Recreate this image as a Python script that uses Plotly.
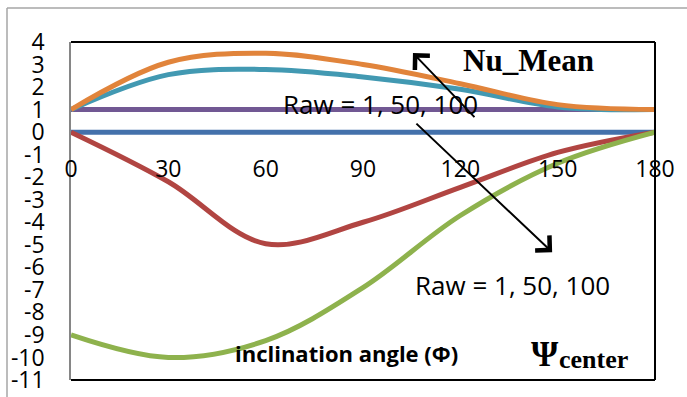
import plotly.graph_objects as go

# inclination angle (degrees)
angles = [0, 30, 60, 90, 120, 150, 180]

# Nu_Mean curves
nu_raw_1 = [1.0, 1.0, 1.0, 1.0, 1.0, 1.0, 1.0]
nu_raw_50 = [1.0, 2.55, 2.78, 2.45, 1.9, 1.12, 1.0]
nu_raw_100 = [1.0, 3.1, 3.5, 3.0, 2.15, 1.22, 1.0]

# stream function at the centre
psi_raw_1 = [0.0, 0.0, 0.0, 0.0, 0.0, 0.0, 0.0]
psi_raw_50 = [0.0, -2.2, -4.95, -4.0, -2.45, -0.9, 0.0]
psi_raw_100 = [-9.0, -10.0, -9.25, -6.9, -3.7, -1.38, 0.0]

x_ticks = [0, 30, 60, 90, 120, 150, 180]
y_ticks = list(range(-11, 5))

series = [
    (psi_raw_1, "#4471AB"),
    (psi_raw_50, "#B14542"),
    (psi_raw_100, "#8EB24D"),
    (nu_raw_1, "#715893"),
    (nu_raw_50, "#4299B2"),
    (nu_raw_100, "#E1843B"),
]

fig = go.Figure()
for values, color in series:
    fig.add_trace(go.Scatter(
        x=angles, y=values, mode="lines",
        line=dict(color=color, width=5, shape="spline", smoothing=1.0),
        showlegend=False, hoverinfo="skip",
    ))

L, R, T, B = 71, 32, 42, 17
W, H = 687, 397
pw, ph = W - L - R, H - T - B
y_lo, y_hi = -11, 4
zero_pos = (0 - y_lo) / (y_hi - y_lo)

tick_font = dict(family="Open Sans", size=23, color="black")

fig.update_layout(
    width=W, height=H,
    margin=dict(l=L, r=R, t=T, b=B),
    paper_bgcolor="white", plot_bgcolor="white",
    xaxis=dict(
        range=[0, 180], tickvals=x_ticks, ticktext=[str(v) for v in x_ticks],
        anchor="free", position=zero_pos, showline=False, showgrid=False,
        zeroline=False, ticks="", tickfont=tick_font, ticklabelstandoff=21,
        automargin=False,
    ),
    yaxis=dict(
        range=[y_lo, y_hi], tickvals=y_ticks, ticktext=[str(v) for v in y_ticks],
        showline=True, linecolor="#868686", linewidth=1.5, showgrid=False,
        zeroline=False, ticks="", tickfont=tick_font, ticklabelstandoff=20,
        automargin=False,
    ),
)

# plot-area frame (top, right, bottom) and outer chart border
frame = dict(color="black", width=2)
fig.add_shape(type="line", xref="paper", yref="paper", x0=0, x1=1, y0=1, y1=1, line=frame)
fig.add_shape(type="line", xref="paper", yref="paper", x0=1, x1=1, y0=0, y1=1, line=frame)
fig.add_shape(type="line", xref="paper", yref="paper", x0=0, x1=1, y0=0, y1=0, line=frame)

bx = (7 - L) / pw
by = (H - B - 8) / ph
outer = dict(color="#A6A6A6", width=1.5)
fig.add_shape(type="line", xref="paper", yref="paper", x0=bx, x1=(W - L) / pw, y0=by, y1=by, line=outer)
fig.add_shape(type="line", xref="paper", yref="paper", x0=bx, x1=bx, y0=-0.1, y1=by, line=outer)

# arrows
for (tip_x, tip_y, tail_x, tail_y) in [(105.4, 3.51, 124.8, 0.6), (148.3, -5.33, 106.0, 0.44)]:
    fig.add_annotation(
        x=tip_x, y=tip_y, ax=tail_x, ay=tail_y, xref="x", yref="y", axref="x", ayref="y",
        text="", showarrow=True, arrowhead=4, arrowsize=2.0, arrowwidth=2, arrowcolor="black",
    )

label_font = dict(family="Open Sans", size=26, color="black")
fig.add_annotation(x=64.7, y=1.25, xref="x", yref="y", text="Raw = 1, 50, 100",
                   showarrow=False, xanchor="left", yanchor="middle", font=label_font)
fig.add_annotation(x=105.5, y=-6.78, xref="x", yref="y", text="Raw = 1, 50, 100",
                   showarrow=False, xanchor="left", yanchor="middle", font=label_font)
fig.add_annotation(x=49.9, y=-9.78, xref="x", yref="y", text="<b>inclination angle (Φ)</b>",
                   showarrow=False, xanchor="left", yanchor="middle",
                   font=dict(family="Open Sans", size=22, color="black"))
fig.add_annotation(x=140.9, y=3.2, xref="x", yref="y", text="<b>Nu_Mean</b>",
                   showarrow=False, xanchor="center", yanchor="middle",
                   font=dict(family="Liberation Serif", size=31, color="black"))
fig.add_annotation(x=146.2, y=-9.85, xref="x", yref="y", text="<b>Ψ</b>",
                   showarrow=False, xanchor="center", yanchor="middle",
                   font=dict(family="Liberation Serif", size=35, color="black"))
fig.add_annotation(x=149.9, y=-10.1, xref="x", yref="y", text="<b>center</b>",
                   showarrow=False, xanchor="left", yanchor="middle",
                   font=dict(family="Liberation Serif", size=26, color="black"))

fig.write_html("out.html")
